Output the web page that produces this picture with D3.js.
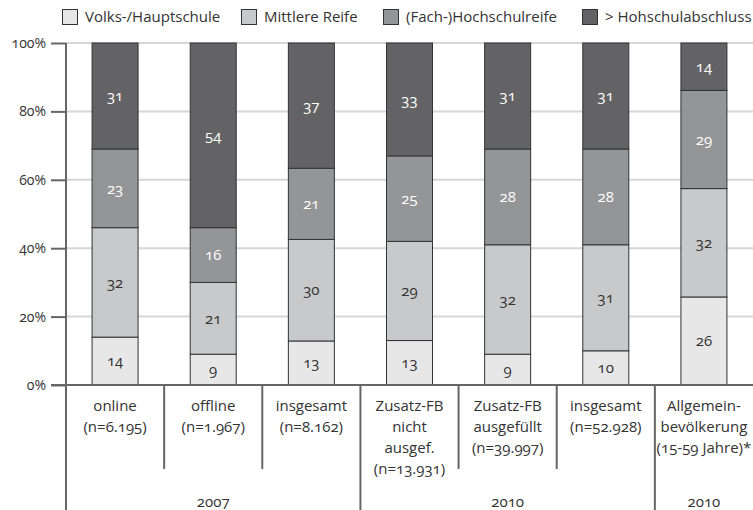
<!DOCTYPE html>
<html>
<head>
<meta charset="utf-8">
<script src="https://cdn.jsdelivr.net/npm/d3@7"></script>
<style>
  body { margin: 0; background: #fff; }
  svg { font-family: "Open Sans", sans-serif; font-variant-numeric: oldstyle-nums; }
</style>
</head>
<body>
<div id="chart-container"></div>
<script>
// data
const categories = ["c1", "c2", "c3", "c4", "c5", "c6", "c7"];
const catLabels = [
  ["online", "(n=6.195)"],
  ["offline", "(n=1.967)"],
  ["insgesamt", "(n=8.162)"],
  ["Zusatz-FB", "nicht", "ausgef.", "(n=13.931)"],
  ["Zusatz-FB", "ausgefüllt", "(n=39.997)"],
  ["insgesamt", "(n=52.928)"],
  ["Allgemein-", "bevölkerung", "(15-59 Jahre)*"]
];
const seriesNames = ["Volks-/Hauptschule", "Mittlere Reife", "(Fach-)Hochschulreife", "> Hohschulabschluss"];
const volks = [14, 9, 13, 13, 9, 10, 26];
const mittlere = [32, 21, 30, 29, 32, 31, 32];
const hochschulreife = [23, 16, 21, 25, 28, 28, 29];
const abschluss = [31, 54, 37, 33, 31, 31, 14];
const groups = [
  { label: "2007", from: 0, to: 3 },
  { label: "2010", from: 3, to: 6 },
  { label: "2010", from: 6, to: 7 }
];
const yTicks = [0, 20, 40, 60, 80, 100];

const colors = ["#e7e7e8", "#c8c9ca", "#949597", "#636365"];
const textColors = ["#333", "#333", "#fff", "#fff"];

const W = 753, H = 510;
const plot = { left: 66, right: 753, top: 43, bottom: 385 };
const fs = 15;

const svg = d3.select("#chart-container")
  .append("svg")
  .attr("width", W)
  .attr("height", H);

const x = d3.scaleBand().domain(categories).range([plot.left, plot.right]).paddingInner(0).paddingOuter(0);
const y = d3.scaleLinear().domain([0, 100]).range([plot.bottom, plot.top]);
const barW = 46;

// gridlines
svg.append("g")
  .selectAll("line")
  .data(yTicks.filter(d => d > 0))
  .enter()
  .append("line")
  .attr("x1", plot.left).attr("x2", plot.right)
  .attr("y1", d => y(d)).attr("y2", d => y(d))
  .attr("stroke", "#d6d6d6")
  .attr("stroke-width", 2);

// stacked data (normalised so each bar reaches 100%)
const rows = categories.map((c, i) => {
  const vals = [volks[i], mittlere[i], hochschulreife[i], abschluss[i]];
  const total = d3.sum(vals);
  let acc = 0;
  return vals.map((v, k) => {
    const y0 = acc / total * 100;
    acc += v;
    return { cat: c, k, v, y0, y1: acc / total * 100 };
  });
});

const bars = svg.append("g");
rows.forEach(segs => {
  segs.forEach(s => {
    const cx = x(s.cat) + x.bandwidth() / 2;
    bars.append("rect")
      .attr("x", cx - barW / 2)
      .attr("y", y(s.y1))
      .attr("width", barW)
      .attr("height", y(s.y0) - y(s.y1))
      .attr("fill", colors[s.k])
      .attr("stroke", "#333")
      .attr("stroke-width", 1);
    bars.append("text")
      .attr("x", cx)
      .attr("y", (y(s.y0) + y(s.y1)) / 2)
      .attr("dy", "0.35em")
      .attr("text-anchor", "middle")
      .attr("font-size", fs)
      .attr("fill", textColors[s.k])
      .text(s.v);
  });
});

// y axis
const yAxis = svg.append("g")
  .attr("transform", `translate(${plot.left},0)`)
  .call(d3.axisLeft(y).tickValues(yTicks).tickFormat(d => d + "%").tickSize(15).tickPadding(5));
yAxis.select(".domain").remove();
yAxis.selectAll(".tick line").attr("stroke", "#666").attr("stroke-width", 2);
yAxis.selectAll(".tick text").attr("font-size", 14).attr("fill", "#333")
  .attr("font-family", "Open Sans, sans-serif");

svg.append("line")
  .attr("x1", plot.left).attr("x2", plot.left)
  .attr("y1", plot.top).attr("y2", H)
  .attr("stroke", "#666").attr("stroke-width", 2);

// baseline
svg.append("line")
  .attr("x1", plot.left - 15).attr("x2", plot.right)
  .attr("y1", plot.bottom).attr("y2", plot.bottom)
  .attr("stroke", "#666").attr("stroke-width", 2);

// separators below the axis
const groupStarts = groups.map(g => g.from);
categories.forEach((c, i) => {
  if (i === 0) return;
  const isGroup = groupStarts.includes(i);
  svg.append("line")
    .attr("x1", x(c)).attr("x2", x(c))
    .attr("y1", plot.bottom).attr("y2", isGroup ? H : 469)
    .attr("stroke", "#666").attr("stroke-width", 2);
});

// category labels
categories.forEach((c, i) => {
  const t = svg.append("text")
    .attr("text-anchor", "middle")
    .attr("font-size", fs)
    .attr("fill", "#333");
  catLabels[i].forEach((line, j) => {
    t.append("tspan")
      .attr("x", x(c) + x.bandwidth() / 2)
      .attr("y", 411 + j * 21)
      .text(line);
  });
});

// group labels
groups.forEach(g => {
  const x0 = x(categories[g.from]);
  const x1 = g.to < categories.length ? x(categories[g.to]) : plot.right;
  svg.append("text")
    .attr("x", (x0 + x1) / 2)
    .attr("y", 507)
    .attr("text-anchor", "middle")
    .attr("font-size", fs)
    .attr("fill", "#333")
    .text(g.label);
});

// legend
const legendX = [62, 241, 383, 582];
const legend = svg.append("g");
seriesNames.forEach((name, i) => {
  legend.append("rect")
    .attr("x", legendX[i] + 0.5).attr("y", 9.5)
    .attr("width", 15).attr("height", 15)
    .attr("fill", colors[i]).attr("stroke", "#333");
  legend.append("text")
    .attr("x", legendX[i] + 23)
    .attr("y", 22)
    .attr("font-size", fs)
    .attr("fill", "#333")
    .text(name);
});
</script>
</body>
</html>
